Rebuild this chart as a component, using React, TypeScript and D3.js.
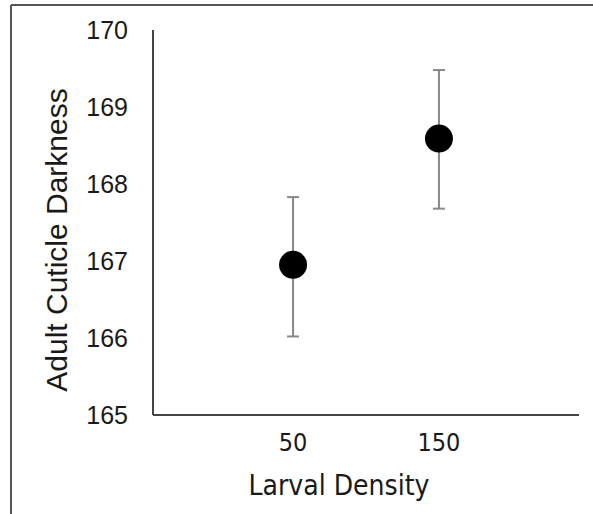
import React from "react";
import * as d3 from "d3";

const categories = ["50", "150"];
const means = [166.95, 168.59];
const upper = [167.83, 169.48];
const lower = [166.02, 167.68];
const yTicks = [165, 166, 167, 168, 169, 170];

const W = 593;
const H = 514;
const left = 153;
const right = 579;
const top = 30;
const bottom = 415;

export default function App() {
  const x = d3.scalePoint<string>().domain(categories).range([left, right]).padding(0.96);
  const y = d3.scaleLinear().domain([165, 170]).range([bottom, top]);
  return (
    <svg width={W} height={H} style={{ position: "absolute", left: 0, top: 0, background: "#fff" }}>
      <rect x={0} y={0} width={W} height={H} fill="#fff" />
      <line x1={11} y1={5} x2={W} y2={5} stroke="#555" strokeWidth={2} />
      <line x1={11} y1={5} x2={11} y2={H} stroke="#555" strokeWidth={2} />
      <line x1={left} y1={top} x2={left} y2={bottom} stroke="#444" strokeWidth={2} />
      <line x1={left} y1={bottom} x2={right} y2={bottom} stroke="#444" strokeWidth={2} />
      {yTicks.map((t) => (
        <text key={t} x={128} y={y(t)} dy="0.35em" textAnchor="end" fontFamily="Liberation Sans, Arial, sans-serif" fontSize={25} fill="#1a1a1a">
          {t}
        </text>
      ))}
      {categories.map((c) => (
        <text key={c} x={x(c)} y={442} dy="0.35em" textAnchor="middle" fontFamily="DejaVu Sans Condensed, DejaVu Sans, sans-serif" fontSize={25} fill="#1a1a1a">
          {c}
        </text>
      ))}
      <text x={339} y={485} dy="0.35em" textAnchor="middle" fontFamily="DejaVu Sans Condensed, DejaVu Sans, sans-serif" fontSize={28} fill="#1a1a1a">
        Larval Density
      </text>
      <text transform={`translate(56,240) rotate(-90)`} dy="0.35em" textAnchor="middle" fontFamily="Liberation Sans, Arial, sans-serif" fontSize={30} fill="#1a1a1a">
        Adult Cuticle Darkness
      </text>
      {categories.map((c, i) => {
        const cx = x(c) as number;
        return (
          <g key={c}>
            <line x1={cx} x2={cx} y1={y(lower[i])} y2={y(upper[i])} stroke="#888" strokeWidth={2} />
            <line x1={cx - 6} x2={cx + 6} y1={y(lower[i])} y2={y(lower[i])} stroke="#888" strokeWidth={2} />
            <line x1={cx - 6} x2={cx + 6} y1={y(upper[i])} y2={y(upper[i])} stroke="#888" strokeWidth={2} />
            <circle cx={cx} cy={y(means[i])} r={14} fill="#000" />
          </g>
        );
      })}
    </svg>
  );
}
